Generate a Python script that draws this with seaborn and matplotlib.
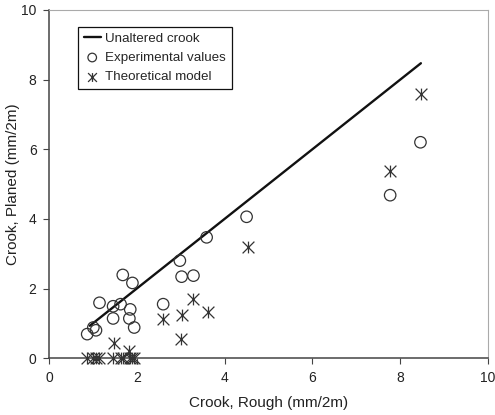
import matplotlib
matplotlib.use("Agg")
import matplotlib.pyplot as plt
from matplotlib.path import Path
import numpy as np
import pandas as pd
import seaborn as sns

# Unaltered crook reference line (planed = rough)
line_x = [0.93, 8.47]
line_y = [0.93, 8.47]

# Experimental values
exp_rough = [0.87, 1.01, 1.07, 1.15, 1.46, 1.46, 1.63, 1.68, 1.90, 1.85,
             1.83, 1.94, 2.60, 2.98, 3.02, 3.29, 3.59, 4.50, 7.77, 8.46]
exp_planed = [0.69, 0.88, 0.80, 1.59, 1.49, 1.14, 1.55, 2.39, 2.16, 1.40,
              1.14, 0.88, 1.55, 2.80, 2.34, 2.37, 3.47, 4.06, 4.68, 6.20]

# Theoretical model
th_rough = [0.87, 1.01, 1.07, 1.15, 1.46, 1.48, 1.63, 1.68, 1.90, 1.83,
            1.85, 1.94, 2.60, 3.00, 3.02, 3.29, 3.61, 4.54, 7.77, 8.47]
th_planed = [0.0, 0.0, 0.0, 0.0, 0.0, 0.44, 0.0, 0.0, 0.0, 0.21,
             0.0, 0.0, 1.11, 0.55, 1.24, 1.69, 1.33, 3.18, 5.38, 7.58]

x_ticks = [0, 2, 4, 6, 8, 10]
y_ticks = [0, 2, 4, 6, 8, 10]

sns.set_style("white")
plt.rcParams["font.family"] = ["Liberation Sans", "DejaVu Sans"]
plt.rcParams["font.size"] = 10

# Star marker: an X crossed by a vertical stroke
star = Path(
    [(-1, -1), (1, 1), (-1, 1), (1, -1), (0, -1), (0, 1)],
    [Path.MOVETO, Path.LINETO, Path.MOVETO, Path.LINETO, Path.MOVETO, Path.LINETO],
)

line_df = pd.DataFrame({"x": line_x, "y": line_y})
exp_df = pd.DataFrame({"x": exp_rough, "y": exp_planed})
th_df = pd.DataFrame({"x": th_rough, "y": th_planed})

fig = plt.figure(figsize=(4.95, 4.15), dpi=100)
ax = fig.add_axes([0.099, 0.137, 0.887, 0.839])

sns.lineplot(data=line_df, x="x", y="y", ax=ax, color="#111111", lw=1.7,
             label="Unaltered crook", zorder=3)
sns.scatterplot(data=exp_df, x="x", y="y", ax=ax, marker="o", s=68,
                facecolor="none", edgecolor="#333333", linewidth=0.9,
                label="Experimental values", zorder=4, clip_on=False)
sns.scatterplot(data=th_df, x="x", y="y", ax=ax, marker=star, s=72,
                facecolor="#333333", edgecolor="#333333", linewidth=0.9,
                label="Theoretical model", zorder=4, clip_on=False)

ax.set_xlim(0, 10)
ax.set_ylim(0, 10)
ax.set_xticks(x_ticks)
ax.set_yticks(y_ticks)
ax.set_xlabel("Crook, Rough (mm/2m)", fontsize=11, color="#222222", labelpad=8)
ax.set_ylabel("Crook, Planed (mm/2m)", fontsize=11, color="#222222", labelpad=1)

for side in ("left", "bottom"):
    ax.spines[side].set_color("#444444")
    ax.spines[side].set_linewidth(1.1)
for side in ("top", "right"):
    ax.spines[side].set_color("#aaaaaa")
    ax.spines[side].set_linewidth(0.8)
ax.tick_params(axis="both", direction="out", length=4, width=0.8,
               color="#444444", labelsize=10, labelcolor="#222222", pad=5,
               bottom=True, left=True)

leg = ax.legend(loc="upper left", bbox_to_anchor=(0.065, 0.952), frameon=True,
                fancybox=False, edgecolor="#111111", framealpha=1,
                fontsize=9.6, handlelength=1.3, handletextpad=0.3,
                borderpad=0.45, labelspacing=0.5, borderaxespad=0,
                markerscale=0.75)
leg.get_frame().set_linewidth(0.9)

fig.savefig("out.png", dpi=100)
